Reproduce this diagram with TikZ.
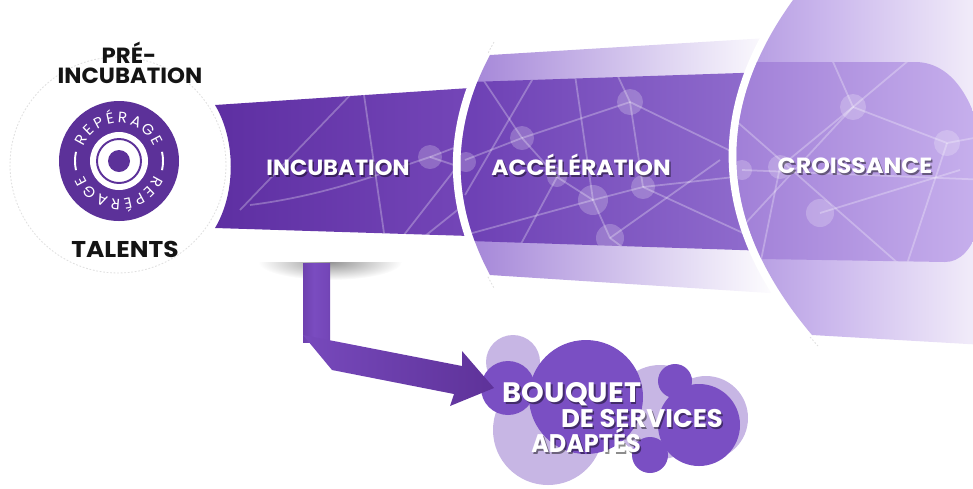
\documentclass[tikz,border=0pt]{standalone}
\usepackage{fontspec}
\usepackage{graphicx}
\setmainfont{Poppins}
\newfontfamily\pop{Poppins}
\usetikzlibrary{decorations.text}

% horizontal stretch of a label
\newcommand\widetext[2]{\scalebox{#1}[1]{#2}}

\definecolor{badge}{HTML}{5C3199}
\definecolor{incA}{HTML}{5E2FA2}
\definecolor{incB}{HTML}{7446B8}
\definecolor{accA}{HTML}{7A50BF}
\definecolor{accB}{HTML}{A98CDA}
\definecolor{accC}{HTML}{DDD2F1}
\definecolor{accInA}{HTML}{6A3CB2}
\definecolor{accInB}{HTML}{9573D1}
\definecolor{croA}{HTML}{9877D3}
\definecolor{croB}{HTML}{C9B5EC}
\definecolor{croC}{HTML}{F0EAF9}
\definecolor{croInA}{HTML}{9B78D4}
\definecolor{croInB}{HTML}{CBB5EF}
\definecolor{arrowA}{HTML}{7A4CC0}
\definecolor{arrowB}{HTML}{5E3299}
\definecolor{cloudP}{HTML}{7A4FC3}
\definecolor{cloudL}{HTML}{C7B6E4}

\pgfdeclarehorizontalshading{accfade}{100bp}{color(0bp)=(accA); color(30bp)=(accB); color(55bp)=(accC); color(72bp)=(white); color(100bp)=(white)}
\pgfdeclarehorizontalshading{crofade}{100bp}{color(0bp)=(croA); color(12bp)=(croA); color(45bp)=(croB); color(72bp)=(croC); color(100bp)=(white)}
\pgfdeclarehorizontalshading{stripshade}{100bp}{color(0bp)=(arrowB); color(45bp)=(arrowA); color(70bp)=(arrowA!80!arrowB); color(100bp)=(arrowB)}

\tikzset{
  gap/.style={white, line width=9pt},
  faint/.style={black!12, line width=0.5pt, dash pattern=on 1pt off 1pt},
  netline/.style={white, opacity=0.28, line width=1pt},
  netdot/.style={white, opacity=0.22},
  lbl/.style={font=\pop\bfseries\fontsize{12.5}{13}\selectfont, text=white, inner sep=0pt, anchor=base},
  lblshadow/.style={lbl, text=black, text opacity=0.45},
  dark/.style={font=\pop\bfseries\fontsize{12.5}{13}\selectfont, text=black!92, inner sep=0pt, anchor=base},
  cloudfont/.style={font=\pop\bfseries\fontsize{#1}{#1}\selectfont},
}

\begin{document}
\begin{tikzpicture}[x=0.02cm, y=-0.02cm]
\useasboundingbox (0,0) rectangle (973,488);
\begin{scope}
\clip (0,0) rectangle (973,488);

% ---------- pre-incubation disc ----------
\draw[faint] (118,165) circle[radius=108];

% ---------- incubation band ----------
\shade[left color=incA, right color=incB]
  (215,105) .. controls (236,140) and (236,193) .. (215,228) -- (470,236) -- (470,88) -- cycle;
\begin{scope}
  \clip (215,105) .. controls (236,140) and (236,193) .. (215,228) -- (470,236) -- (470,88) -- cycle;
  \draw[netline] (357,88) -- (240,210);
  \draw[netline] (363,88) -- (385,240);
  \draw[netline] (250,205) .. controls (330,195) and (390,170) .. (430,157);
  \draw[netline] (430,157) -- (475,140);
  \draw[netline] (430,157) -- (475,172);
  \draw[netline] (400,240) -- (470,150);
  \draw[netline] (420,240) -- (470,200);
  \fill[netdot] (430,157) circle[radius=12];
\end{scope}

% soft shadow under the band
\begin{scope}
  \clip (240,262) rectangle (410,292);
  \shade[inner color=black!42, outer color=white] (330,262) ellipse[x radius=72, y radius=18];
\end{scope}

% ---------- acceleration ----------
\draw[faint] (494,42) .. controls (447,126) and (447,204) .. (494,288);
\draw[gap] (490,55) .. controls (451,128) and (451,202) .. (490,275);
\shade[shading=accfade]
  (490,55) -- (800,36) -- (800,295) -- (490,275) .. controls (451,202) and (451,128) .. (490,55) -- cycle;
\begin{scope}
  \clip (490,55) -- (800,36) -- (800,295) -- (490,275) .. controls (451,202) and (451,128) .. (490,55) -- cycle;
  \shade[left color=accInA, right color=accInB] (440,83) -- (800,71) -- (800,252) -- (440,240) -- cycle;
  \clip (440,83) -- (800,71) -- (800,252) -- (440,240) -- cycle;
  \draw[netline] (480,75) -- (522,138);
  \draw[netline] (535,75) -- (465,195);
  \draw[netline] (522,138) -- (630,102);
  \draw[netline] (575,75) -- (593,200) -- (610,238) -- (640,260);
  \draw[netline] (630,102) -- (615,70);
  \draw[netline] (630,102) -- (780,175);
  \draw[netline] (630,102) -- (643,187);
  \draw[netline] (465,160) -- (522,138) -- (557,177) -- (593,200);
  \draw[netline] (593,200) -- (643,187) -- (780,172);
  \draw[netline] (643,187) -- (780,250);
  \draw[netline] (465,235) -- (593,200);
  \draw[netline] (515,255) -- (557,177);
  \draw[netline] (610,238) -- (720,160);
  \fill[netdot] (630,102) circle[radius=13];
  \fill[netdot] (522,138) circle[radius=12];
  \fill[netdot] (593,200) circle[radius=15];
  \fill[netdot] (643,187) circle[radius=12];
  \fill[netdot] (610,238) circle[radius=14];
  \fill[netdot] (557,177) circle[radius=10];
  \fill[netdot] (466,162) circle[radius=10];
\end{scope}

% ---------- croissance ----------
\draw[faint] (806,-12) .. controls (706,110) and (712,228) .. (818,346);
\draw[gap] (800,-10) -- (793,0) .. controls (712,112) and (718,224) .. (812,335);
\shade[shading=crofade]
  (800,-10) -- (985,-10) -- (985,345) -- (812,335) .. controls (718,224) and (712,112) .. (793,0) -- cycle;
\begin{scope}
  \clip (800,-10) -- (985,-10) -- (985,345) -- (812,335) .. controls (718,224) and (712,112) .. (793,0) -- cycle;
  \shade[left color=croInA, right color=croInB]
    (700,62) -- (915,62) .. controls (1000,62) and (1005,262) .. (945,262) -- (700,258) -- cycle;
  \clip (700,62) -- (915,62) .. controls (1000,62) and (1005,262) .. (945,262) -- (700,258) -- cycle;
  \draw[netline] (780,167) -- (853,107) -- (830,55);
  \draw[netline] (853,107) -- (947,143) -- (990,135);
  \draw[netline] (853,107) -- (915,55);
  \draw[netline] (947,143) -- (905,270);
  \draw[netline] (820,213) -- (960,170);
  \draw[netline] (742,170) -- (990,180);
  \draw[netline] (730,240) -- (853,107);
  \draw[netline] (760,265) -- (780,167);
  \draw[netline] (735,120) -- (900,265);
  \fill[netdot] (853,107) circle[radius=13];
  \fill[netdot] (947,143) circle[radius=13];
  \fill[netdot] (820,213) circle[radius=14];
  \fill[netdot] (780,167) circle[radius=12];
  \fill[netdot] (742,170) circle[radius=10];
\end{scope}

% ---------- repérage badge ----------
\begin{scope}[shift={(119,161)}, x=0.02cm, y=0.02cm]
  \fill[badge] (0,0) circle[radius=60];
  \fill[white] (0,0) circle[radius=29];
  \draw[badge, line width=1.1pt] (0,0) circle[radius=22];
  \fill[badge] (0,0) circle[radius=11];
  \draw[white, line width=1.1pt] (168:44) arc[start angle=168, end angle=192, radius=44];
  \draw[white, line width=1.1pt] (12:44) arc[start angle=12, end angle=-12, radius=44];
  \path[decorate, decoration={text along path, text color=white,
      text={|\pop\fontsize{8.6}{9}\selectfont|REPÉRAGE}, text align=fit to path}]
    (158:38) arc[start angle=158, end angle=22, radius=38];
  \path[decorate, decoration={text along path, text color=white,
      text={|\pop\fontsize{8.6}{9}\selectfont|REPÉRAGE}, text align=fit to path}]
    (-22:38) arc[start angle=-22, end angle=-158, radius=38];
\end{scope}

% ---------- labels of the pre-incubation disc ----------
\node[dark] (pre) at (129,63) {\widetext{1.04}{PRÉ-}};
\node[dark] (preinc) at (130,83) {\widetext{1.04}{INCUBATION}};
\node[dark, font=\pop\bfseries\fontsize{13}{14}\selectfont] (talents) at (125,257) {\widetext{1.09}{TALENTS}};

% ---------- stage labels ----------
\node[lblshadow] (incS) at (339.5,177) {\widetext{1.03}{INCUBATION}};
\node[lbl] (inc) at (338,175) {\widetext{1.03}{INCUBATION}};
\node[lblshadow] (accS) at (582.5,177) {\widetext{1.07}{ACCÉLÉRATION}};
\node[lbl] (acc) at (581,175) {\widetext{1.07}{ACCÉLÉRATION}};
\node[lblshadow] (croS) at (856.5,175) {\widetext{1.08}{CROISSANCE}};
\node[lbl] (cro) at (855,173) {\widetext{1.08}{CROISSANCE}};

% ---------- services cloud ----------
\fill[cloudL] (513,362) circle[radius=27];
\fill[cloudL] (548,430) circle[radius=55];
\fill[cloudL] (660,412) circle[radius=47];
\fill[cloudL] (706,418) circle[radius=42];
\fill[cloudP] (586,397) circle[radius=57];
\fill[cloudP] (508,388) circle[radius=27];
\fill[cloudP] (699,425) circle[radius=41];
\fill[cloudP] (675,381) circle[radius=17];
\fill[cloudP] (650,455) circle[radius=18];

% ---------- ribbon arrow from the incubation band ----------
\shade[shading=stripshade] (303,263) rectangle (330,342);
\shade[left color=arrowA!90!arrowB, right color=arrowB]
  (303,335) -- (462,366) -- (462,351) -- (494,388) -- (450,406) -- (454,394) -- (332,370) -- cycle;

% ---------- cloud text ----------
\node[lblshadow, cloudfont=16] (bqS) at (573.5,404) {\widetext{1.03}{BOUQUET}};
\node[lbl, cloudfont=16] (bq) at (572,402) {\widetext{1.03}{BOUQUET}};
\node[lblshadow, cloudfont=14.5] (dsS) at (643.5,429) {\widetext{1.02}{DE SERVICES}};
\node[lbl, cloudfont=14.5] (ds) at (642,427) {\widetext{1.02}{DE SERVICES}};
\node[lblshadow, cloudfont=14.5] (adS) at (587.5,454) {\widetext{0.94}{ADAPTÉS}};
\node[lbl, cloudfont=14.5] (ad) at (586,452) {\widetext{0.94}{ADAPTÉS}};
\end{scope}
\end{tikzpicture}
\end{document}
